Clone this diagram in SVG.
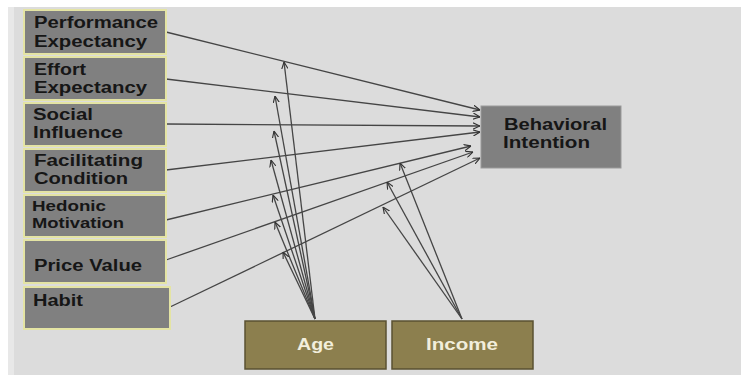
<svg xmlns="http://www.w3.org/2000/svg" width="743" height="375" viewBox="0 0 743 375">
<style>
.bg{fill:#dcdcdc}
.lbox{fill:#808080;stroke:#e4e4a4;stroke-width:2}
.bi{fill:#808080;stroke:#9a9a9a;stroke-width:1}
.mod{fill:#8c7f4e;stroke:#5a5132;stroke-width:1.5}
.t{font-family:"Liberation Sans",Arial,sans-serif;font-weight:bold;font-size:16px;fill:#161616}
.ts{font-size:14.5px}
.tw{font-family:"Liberation Sans",Arial,sans-serif;font-weight:bold;font-size:16px;fill:#f2eedc}
.c line{stroke:#454545;stroke-width:1.3;fill:none}
</style>
<defs>
<marker id="ah" viewBox="0 0 10 10" refX="10" refY="5" markerWidth="7" markerHeight="7" markerUnits="userSpaceOnUse" orient="auto">
<path d="M0,0.5 L10,5 L0,9.5" fill="none" stroke="#333" stroke-width="1.6"/>
</marker>
</defs>
<rect x="0" y="0" width="743" height="375" fill="#ffffff"/>
<rect x="8" y="7" width="733" height="368" fill="#e8e8e8"/>
<rect class="bg" x="14" y="7" width="727" height="368"/>

<g class="c" marker-end="url(#ah)">
<line x1="166" y1="32" x2="480" y2="110"/>
<line x1="166" y1="79" x2="480" y2="117"/>
<line x1="166" y1="124" x2="480" y2="126"/>
<line x1="166" y1="170" x2="480" y2="132"/>
<line x1="166" y1="220" x2="471" y2="146"/>
<line x1="166" y1="260" x2="473" y2="152"/>
<line x1="170" y1="307" x2="480" y2="158"/>
<line x1="315" y1="319" x2="284" y2="62"/>
<line x1="315" y1="319" x2="275" y2="96"/>
<line x1="315" y1="319" x2="274" y2="131"/>
<line x1="315" y1="319" x2="271" y2="160"/>
<line x1="315" y1="319" x2="273" y2="195"/>
<line x1="315" y1="319" x2="275" y2="222"/>
<line x1="315" y1="319" x2="283" y2="252"/>
<line x1="462" y1="319" x2="400" y2="163"/>
<line x1="462" y1="319" x2="387" y2="182"/>
<line x1="462" y1="319" x2="383" y2="207"/>
</g>

<g id="performance">
<rect class="lbox" x="24" y="10" width="142" height="44"/>
<text class="t" x="34" y="28" textLength="124" lengthAdjust="spacingAndGlyphs">Performance</text>
<text class="t" x="34" y="47" textLength="113" lengthAdjust="spacingAndGlyphs">Expectancy</text>
</g>
<g id="effort">
<rect class="lbox" x="24" y="57" width="142" height="43"/>
<text class="t" x="34" y="75" textLength="52" lengthAdjust="spacingAndGlyphs">Effort</text>
<text class="t" x="34" y="93" textLength="113" lengthAdjust="spacingAndGlyphs">Expectancy</text>
</g>
<g id="social">
<rect class="lbox" x="24" y="103" width="142" height="43"/>
<text class="t" x="33" y="120" textLength="60" lengthAdjust="spacingAndGlyphs">Social</text>
<text class="t" x="33" y="138" textLength="90" lengthAdjust="spacingAndGlyphs">Influence</text>
</g>
<g id="facilitating">
<rect class="lbox" x="24" y="149" width="142" height="43"/>
<text class="t" x="34" y="166" textLength="109" lengthAdjust="spacingAndGlyphs">Facilitating</text>
<text class="t" x="34" y="184" textLength="94" lengthAdjust="spacingAndGlyphs">Condition</text>
</g>
<g id="hedonic">
<rect class="lbox" x="24" y="195" width="142" height="42"/>
<text class="t ts" x="32" y="211" textLength="74" lengthAdjust="spacingAndGlyphs">Hedonic</text>
<text class="t ts" x="32" y="228" textLength="92" lengthAdjust="spacingAndGlyphs">Motivation</text>
</g>
<g id="price">
<rect class="lbox" x="24" y="240" width="142" height="43"/>
<text class="t" x="34" y="271" textLength="108" lengthAdjust="spacingAndGlyphs">Price Value</text>
</g>
<g id="habit">
<rect class="lbox" x="24" y="287" width="146" height="42"/>
<text class="t" x="33" y="306" textLength="50" lengthAdjust="spacingAndGlyphs">Habit</text>
</g>
<g id="behavioral">
<rect class="bi" x="481" y="106" width="140" height="62"/>
<text class="t" x="504" y="130" textLength="103" lengthAdjust="spacingAndGlyphs">Behavioral</text>
<text class="t" x="503" y="148" textLength="87" lengthAdjust="spacingAndGlyphs">Intention</text>
</g>
<g id="age">
<rect class="mod" x="245" y="321" width="141" height="48"/>
<text class="tw" x="297" y="350" textLength="37" lengthAdjust="spacingAndGlyphs">Age</text>
</g>
<g id="income">
<rect class="mod" x="392" y="321" width="141" height="48"/>
<text class="tw" x="426" y="350" textLength="72" lengthAdjust="spacingAndGlyphs">Income</text>
</g>
</svg>
